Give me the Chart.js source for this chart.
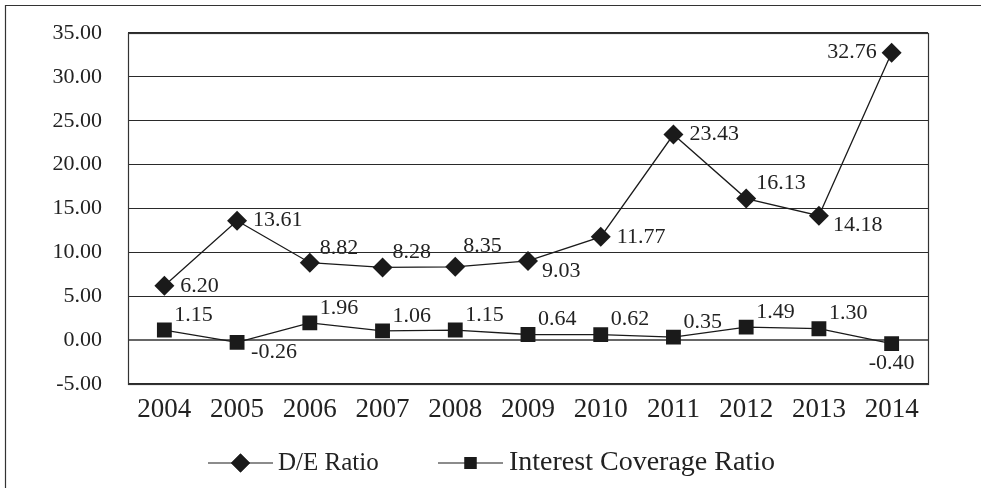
<!DOCTYPE html>
<html>
<head>
<meta charset="utf-8">
<script src="https://cdn.jsdelivr.net/npm/chart.js@4.4.1/dist/chart.umd.min.js"></script>
<style>
  html, body { margin: 0; padding: 0; background: #fff; }
  canvas { display: block; }
</style>
</head>
<body>
<canvas id="c" width="981" height="488"></canvas>
<script>
// Years on the category axis
const years = ['2004', '2005', '2006', '2007', '2008', '2009', '2010', '2011', '2012', '2013', '2014'];
// Debt-to-equity ratio per year
const deRatio = [6.20, 13.61, 8.82, 8.28, 8.35, 9.03, 11.77, 23.43, 16.13, 14.18, 32.76];
// Interest coverage ratio per year
const icRatio = [1.15, -0.26, 1.96, 1.06, 1.15, 0.64, 0.62, 0.35, 1.49, 1.30, -0.40];
// Value axis range and step
const yMin = -5, yMax = 35, yStep = 5;
const seriesNames = ['D/E Ratio', 'Interest Coverage Ratio'];

// Where each value label sits relative to its marker
const dePlace = ['r', 'r', 'ur', 'ur', 'ur2', 'dr', 'r', 'r', 'ur', 'dr', 'l'];
const icPlace = ['ur', 'dr', 'ur', 'ur', 'ur', 'ur', 'ur', 'ur', 'ur', 'ur', 'd'];

const SERIF = '"Liberation Serif", "DejaVu Serif", serif';
const INK = '#1a1a1a';

const placements = {
  r:   { dx: 16, dy: 0,   align: 'left' },
  ur:  { dx: 10, dy: -15, align: 'left' },
  ur2: { dx: 8,  dy: -21, align: 'left' },
  dr:  { dx: 14, dy: 10,  align: 'left' },
  l:   { dx: -15, dy: 0,  align: 'right' },
  d:   { dx: 0,  dy: 20,  align: 'center' }
};

const valueLabels = {
  id: 'valueLabels',
  afterDatasetsDraw(chart) {
    const ctx = chart.ctx;
    const places = [dePlace, icPlace];
    ctx.save();
    ctx.font = '22px ' + SERIF;
    ctx.fillStyle = '#222';
    ctx.textBaseline = 'middle';
    chart.data.datasets.forEach((ds, di) => {
      const meta = chart.getDatasetMeta(di);
      meta.data.forEach((pt, i) => {
        const p = placements[places[di][i]];
        ctx.textAlign = p.align;
        ctx.fillText(ds.data[i].toFixed(2), pt.x + p.dx, pt.y + p.dy);
      });
    });
    ctx.restore();
  }
};

const frameAndLegend = {
  id: 'frameAndLegend',
  beforeDraw(chart) {
    const ctx = chart.ctx;
    ctx.save();
    ctx.fillStyle = '#fff';
    ctx.fillRect(0, 0, chart.width, chart.height);
    // outer figure frame (left and top edges)
    ctx.strokeStyle = '#333';
    ctx.lineWidth = 1.2;
    ctx.beginPath();
    ctx.moveTo(5.5, chart.height + 2);
    ctx.lineTo(5.5, 5.5);
    ctx.lineTo(chart.width + 2, 5.5);
    ctx.stroke();
    ctx.restore();
  },
  afterDraw(chart) {
    const ctx = chart.ctx;
    const a = chart.chartArea;
    ctx.save();
    // plot box
    ctx.strokeStyle = '#333';
    ctx.lineWidth = 1.2;
    ctx.strokeRect(Math.round(a.left) + 0.5, Math.round(a.top) + 0.5,
                   Math.round(a.right - a.left), Math.round(a.bottom - a.top));

    // legend
    const ly = 463;
    const items = [
      { x0: 208, x1: 273, style: 'rectRot', r: 9.5, tx: 278, size: 25 },
      { x0: 438, x1: 503, style: 'rect', r: 8.5, tx: 509, size: 28 }
    ];
    items.forEach((it, i) => {
      ctx.strokeStyle = INK;
      ctx.lineWidth = 1.2;
      ctx.beginPath();
      ctx.moveTo(it.x0, ly);
      ctx.lineTo(it.x1, ly);
      ctx.stroke();
      ctx.fillStyle = INK;
      Chart.helpers.drawPoint(ctx, { pointStyle: it.style, radius: it.r, rotation: 0, borderWidth: 0 },
                              (it.x0 + it.x1) / 2, ly);
      ctx.fill();
      ctx.font = it.size + 'px ' + SERIF;
      ctx.fillStyle = '#222';
      ctx.textAlign = 'left';
      ctx.textBaseline = 'middle';
      ctx.fillText(seriesNames[i], it.tx, ly);
    });
    ctx.restore();
  }
};

new Chart(document.getElementById('c'), {
  type: 'line',
  data: {
    labels: years,
    datasets: [
      {
        label: seriesNames[0],
        data: deRatio,
        borderColor: INK,
        borderWidth: 1.3,
        backgroundColor: INK,
        pointStyle: 'rectRot',
        pointRadius: 10,
        pointBorderWidth: 0,
        pointBackgroundColor: INK,
        tension: 0
      },
      {
        label: seriesNames[1],
        data: icRatio,
        borderColor: INK,
        borderWidth: 1.3,
        backgroundColor: INK,
        pointStyle: 'rect',
        pointRadius: 10.5,
        pointBorderWidth: 0,
        pointBackgroundColor: INK,
        tension: 0
      }
    ]
  },
  options: {
    responsive: false,
    animation: false,
    devicePixelRatio: 1,
    layout: { padding: { top: 33, right: 53, left: 0, bottom: 0 } },
    plugins: {
      legend: { display: false },
      tooltip: { enabled: false }
    },
    scales: {
      x: {
        offset: true,
        grid: { display: false, drawTicks: false },
        border: { display: false },
        ticks: {
          font: { family: SERIF, size: 27 },
          color: '#222',
          padding: 10,
          maxRotation: 0
        },
        afterFit(scale) { scale.height = 104; }
      },
      y: {
        min: yMin,
        max: yMax,
        grid: {
          drawTicks: false,
          color: (c) => c.tick && c.tick.value === 0 ? '#666' : '#2a2a2a',
          lineWidth: (c) => c.tick && c.tick.value === 0 ? 2 : 1.1
        },
        border: { display: false },
        ticks: {
          stepSize: yStep,
          font: { family: SERIF, size: 22 },
          color: '#222',
          padding: 26,
          callback: (v) => Number(v).toFixed(2)
        },
        afterFit(scale) {
          scale.width = 128;
          scale.paddingTop = 0;
          scale.paddingBottom = 0;
        }
      }
    }
  },
  plugins: [frameAndLegend, valueLabels]
});
</script>
</body>
</html>
